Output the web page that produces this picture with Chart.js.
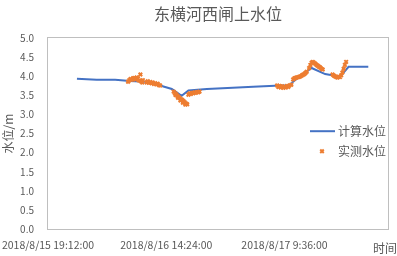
<!DOCTYPE html>
<html>
<head>
<meta charset="utf-8">
<script src="https://cdn.jsdelivr.net/npm/chart.js@4"></script>
<style>
  html, body { margin: 0; padding: 0; background: #fff; }
</style>
</head>
<body>
<canvas id="myChart" width="397" height="256"></canvas>
<script>
// hours counted from 2018/8/15 19:12:00
const calcHours = [4.7, 7.9, 10.9, 13.3, 15.8, 18.2, 20.1, 21.7, 22.8, 25.8, 30.0, 33.3, 37.7, 39.3, 39.8, 41.4, 42.8, 45.0, 47.4, 48.8, 52.0];
const calcLevel = [3.94, 3.91, 3.91, 3.88, 3.86, 3.76, 3.67, 3.49, 3.63, 3.67, 3.70, 3.73, 3.76, 3.77, 3.86, 4.06, 4.22, 4.06, 3.99, 4.25, 4.25];

const measHours = [
    13.0, 13.2, 13.4, 13.6, 13.8, 14.0, 14.2, 14.4, 14.6, 14.8, 15.0, 15.1, 15.3, 15.4,
    16.0, 16.2, 16.4, 16.6, 16.8, 17.0, 17.2, 17.4, 17.6, 17.8, 18.0, 18.2,
    20.4, 20.6, 20.8, 21.0, 21.2, 21.4, 21.6, 21.8, 22.0, 22.2, 22.4, 22.6, 20.7, 21.1, 21.5, 21.9, 22.3,
    22.8, 23.0, 23.2, 23.4, 23.6, 23.8, 24.0, 24.2, 24.4, 24.6,
    37.2, 37.4, 37.6, 37.8, 38.0, 38.2, 38.4, 38.6, 38.8, 39.0, 39.2, 39.5,
    39.8, 40.0, 40.2, 40.4, 40.6, 40.8, 41.0, 41.2, 41.4, 41.6, 41.8, 42.0,
    42.4, 42.6, 42.8, 43.0, 43.2, 43.4, 43.6, 43.8, 44.0, 44.2, 44.4, 44.6,
    46.2, 46.4, 46.6, 46.8, 47.0, 47.2, 47.4, 47.6, 47.8, 48.0, 48.2, 48.4
];
const measLevel = [
    3.86, 3.90, 3.93, 3.91, 3.95, 3.96, 3.92, 3.97, 3.94, 3.89, 4.05, 3.87, 3.84, 3.90,
    3.84, 3.87, 3.83, 3.85, 3.82, 3.84, 3.80, 3.82, 3.79, 3.81, 3.77, 3.76,
    3.60, 3.56, 3.53, 3.49, 3.46, 3.43, 3.40, 3.38, 3.35, 3.32, 3.29, 3.27, 3.51, 3.44, 3.37, 3.31, 3.26,
    3.52, 3.55, 3.54, 3.57, 3.56, 3.58, 3.57, 3.59, 3.58, 3.60,
    3.76, 3.72, 3.75, 3.71, 3.74, 3.70, 3.73, 3.71, 3.75, 3.72, 3.76, 3.78,
    3.92, 3.95, 3.96, 3.97, 3.98, 3.99, 4.00, 4.02, 4.04, 4.06, 4.09, 4.12,
    4.22, 4.30, 4.36, 4.38, 4.35, 4.33, 4.30, 4.28, 4.25, 4.23, 4.20, 4.18,
    4.05, 4.02, 4.00, 3.98, 3.97, 3.99, 3.98, 4.03, 4.10, 4.20, 4.30, 4.38
];

const seriesNames = ['计算水位', '实测水位'];
const yTicks = [0, 0.5, 1.0, 1.5, 2.0, 2.5, 3.0, 3.5, 4.0, 4.5, 5.0];
const xStart = new Date(2018, 7, 15, 19, 12, 0);

const textColor = '#595959';
const fontFamily = '"Noto Sans CJK SC", "Noto Sans", sans-serif';

function fmtTime(h) {
    const d = new Date(xStart.getTime() + Math.round(h * 3600) * 1000);
    const p = (n) => String(n).padStart(2, '0');
    return d.getFullYear() + '/' + (d.getMonth() + 1) + '/' + d.getDate() + ' ' +
        d.getHours() + ':' + p(d.getMinutes()) + ':' + p(d.getSeconds());
}

const calcPoints = calcHours.map((h, i) => ({ x: h, y: calcLevel[i] }));
const measPoints = measHours.map((h, i) => ({ x: h, y: measLevel[i] }));

// plot box, inner legend and the "时间" label
const extras = {
    id: 'extras',
    afterDatasetsDraw(chart) {
        const ctx = chart.ctx;
        const a = chart.chartArea;
        ctx.save();
        ctx.strokeStyle = '#bfbfbf';
        ctx.lineWidth = 1;
        ctx.strokeRect(Math.round(a.left) - 0.5, Math.round(a.top) - 0.5,
            Math.round(a.right - a.left) + 1, Math.round(a.bottom - a.top) + 1);

        const ds = chart.data.datasets;
        const lx = a.right - 78;
        const ly = a.top + 93;
        ctx.font = '12px ' + fontFamily;
        ctx.fillStyle = textColor;
        ctx.textBaseline = 'middle';
        ctx.textAlign = 'left';

        ctx.strokeStyle = ds[0].borderColor;
        ctx.lineWidth = 2;
        ctx.beginPath();
        ctx.moveTo(lx, ly);
        ctx.lineTo(lx + 25, ly);
        ctx.stroke();
        ctx.fillText(ds[0].label, lx + 28, ly);

        ctx.strokeStyle = ds[1].borderColor;
        Chart.helpers.drawPoint(ctx, {
            pointStyle: ds[1].pointStyle, radius: 2.5,
            borderWidth: 2, rotation: 0
        }, lx + 12, ly + 20);
        ctx.fillText(ds[1].label, lx + 28, ly + 20);

        ctx.textAlign = 'center';
        ctx.fillText('时间', 385, 248);
        ctx.restore();
    }
};

const ctx = document.getElementById('myChart').getContext('2d');
const myChart = new Chart(ctx, {
    type: 'scatter',
    data: {
        datasets: [{
            label: seriesNames[0],
            data: calcPoints,
            showLine: true,
            borderColor: '#4472C4',
            backgroundColor: '#4472C4',
            borderWidth: 2,
            pointRadius: 0,
            tension: 0,
            order: 2
        }, {
            label: seriesNames[1],
            data: measPoints,
            pointStyle: 'crossRot',
            pointRadius: 2.5,
            borderWidth: 2,
            borderColor: '#ED7D31',
            backgroundColor: '#ED7D31',
            order: 1
        }]
    },
    options: {
        responsive: false,
        animation: false,
        layout: { padding: { left: 0, right: 9, top: 0, bottom: 0 } },
        plugins: {
            legend: { display: false },
            tooltip: { enabled: false },
            title: {
                display: true,
                fullSize: false,
                text: '东横河西闸上水位',
                color: textColor,
                font: { family: fontFamily, size: 16, weight: 'normal' },
                padding: { top: 4, bottom: 15 }
            }
        },
        scales: {
            x: {
                type: 'linear',
                min: 0,
                max: 55.2,
                grid: { display: false, drawTicks: false },
                border: { display: false },
                afterFit: (s) => {
                    s.height = 27;
                    s.paddingLeft = 0;
                    s.paddingRight = 0;
                },
                ticks: {
                    stepSize: 19.2,
                    includeBounds: false,
                    maxRotation: 0,
                    autoSkip: false,
                    color: textColor,
                    padding: 10,
                    font: { family: fontFamily, size: 10.5 },
                    callback: (v) => fmtTime(v)
                }
            },
            y: {
                min: 0,
                max: 5,
                grid: { display: false, drawTicks: false },
                border: { display: false },
                afterFit: (s) => { s.width = 48; },
                afterBuildTicks: (axis) => { axis.ticks = yTicks.map(v => ({ value: v })); },
                ticks: {
                    color: textColor,
                    padding: 14,
                    font: { family: fontFamily, size: 10 },
                    callback: (v) => v.toFixed(1)
                },
                title: {
                    display: true,
                    text: '水位/m',
                    color: textColor,
                    font: { family: fontFamily, size: 12 },
                    padding: 1
                }
            }
        }
    },
    plugins: [extras]
});
</script>
</body>
</html>
